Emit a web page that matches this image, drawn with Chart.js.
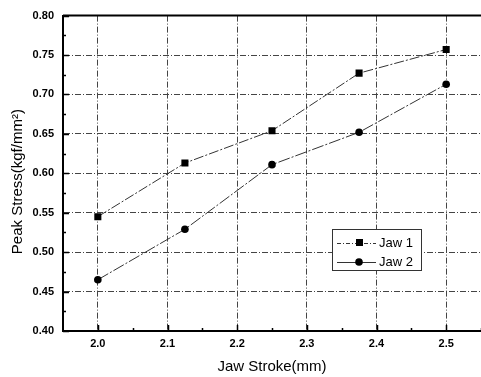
<!DOCTYPE html>
<html>
<head>
<meta charset="utf-8">
<script src="https://cdn.jsdelivr.net/npm/chart.js@4/dist/chart.umd.min.js"></script>
<style>
  html, body { margin: 0; padding: 0; background: #fff; overflow: hidden; }
  #wrap { width: 486px; height: 377px; }
</style>
</head>
<body>
<div id="wrap"><canvas id="c" width="486" height="377"></canvas></div>
<script>
const jawStroke = [2.0, 2.125, 2.25, 2.375, 2.5];
const jaw1 = [0.545, 0.613, 0.654, 0.727, 0.757];
const jaw2 = [0.465, 0.529, 0.611, 0.652, 0.713];
const seriesLabels = ['Jaw 1', 'Jaw 2'];
const xTickValues = [2.0, 2.1, 2.2, 2.3, 2.4, 2.5];
const yTickValues = [0.40, 0.45, 0.50, 0.55, 0.60, 0.65, 0.70, 0.75, 0.80];
const xTitle = 'Jaw Stroke(mm)';
const yTitle = 'Peak Stress(kgf/mm\u00B2)';

const FONT = "'Liberation Sans', Arial, sans-serif";

const framePlugin = {
  id: 'frame',
  afterDraw(chart) {
    const { ctx, chartArea: a, scales: { x, y } } = chart;
    ctx.save();
    ctx.strokeStyle = '#000';
    ctx.lineWidth = 2;
    ctx.beginPath();
    ctx.moveTo(a.left, a.top);
    ctx.lineTo(a.right, a.top);
    ctx.stroke();
    ctx.lineWidth = 1.5;
    ctx.beginPath();
    for (let i = 0; i <= 11; i++) {
      const v = 2.0 + i * 0.05;
      const px = Math.round(x.getPixelForValue(v)) + 0.5;
      ctx.moveTo(px, a.bottom);
      ctx.lineTo(px, a.bottom - (i % 2 === 0 ? 6 : 3));
    }
    for (let i = 0; i <= 16; i++) {
      const v = 0.40 + i * 0.025;
      const py = Math.round(y.getPixelForValue(v)) + 0.5;
      ctx.moveTo(a.left, py);
      ctx.lineTo(a.left + (i % 2 === 0 ? 6 : 3), py);
    }
    ctx.stroke();
    ctx.restore();
  },
  afterDatasetsDraw(chart) {
    const { ctx } = chart;
    const bx = 332, by = 229, bw = 89, bh = 41;
    ctx.save();
    ctx.fillStyle = '#fff';
    ctx.fillRect(bx, by, bw, bh);
    ctx.strokeStyle = '#333';
    ctx.lineWidth = 1;
    ctx.strokeRect(bx + 0.5, by + 0.5, bw, bh);
    chart.data.datasets.forEach((ds, i) => {
      const cy = by + 13.5 + i * 19.5;
      ctx.strokeStyle = ds.borderColor;
      ctx.lineWidth = 1;
      ctx.setLineDash(i === 0 ? [4, 2, 1, 2] : []);
      ctx.beginPath();
      ctx.moveTo(337, Math.round(cy) + 0.5);
      ctx.lineTo(376, Math.round(cy) + 0.5);
      ctx.stroke();
      ctx.setLineDash([]);
      ctx.fillStyle = '#000';
      if (ds.pointStyle === 'rect') {
        ctx.fillRect(356, cy - 3.5, 7, 7);
      } else {
        ctx.beginPath();
        ctx.arc(359, cy, 3.8, 0, Math.PI * 2);
        ctx.fill();
      }
      ctx.fillStyle = '#000';
      ctx.font = '13px ' + FONT;
      ctx.textBaseline = 'middle';
      ctx.textAlign = 'left';
      ctx.fillText(ds.label, 379, cy + 0.5);
    });
    ctx.restore();
  }
};

new Chart(document.getElementById('c'), {
  type: 'line',
  data: {
    datasets: [
      {
        label: seriesLabels[0],
        data: jawStroke.map((v, i) => ({ x: v, y: jaw1[i] })),
        borderColor: '#333',
        borderWidth: 1,
        borderDash: [10, 2, 2, 2],
        pointStyle: 'rect',
        pointRadius: 5,
        pointBackgroundColor: '#000',
        pointBorderColor: '#000',
        pointBorderWidth: 0,
        tension: 0,
        fill: false
      },
      {
        label: seriesLabels[1],
        data: jawStroke.map((v, i) => ({ x: v, y: jaw2[i] })),
        borderColor: '#333',
        borderWidth: 1,
        borderDash: [12, 2, 2, 2],
        pointStyle: 'circle',
        pointRadius: 3.8,
        pointBackgroundColor: '#000',
        pointBorderColor: '#000',
        pointBorderWidth: 0,
        tension: 0,
        fill: false
      }
    ]
  },
  options: {
    responsive: false,
    animation: false,
    layout: { padding: { top: 14, left: 0, right: 0, bottom: 0 } },
    plugins: {
      legend: { display: false },
      tooltip: { enabled: false }
    },
    scales: {
      x: {
        type: 'linear',
        min: 1.95,
        max: 2.55,
        afterFit(s) { s.height = 46; },
        afterBuildTicks(s) { s.ticks = xTickValues.map(v => ({ value: v })); },
        ticks: {
          padding: 6,
          color: '#000',
          font: { family: FONT, size: 11, weight: 'bold' },
          callback: v => Number(v).toFixed(1),
          maxRotation: 0,
          autoSkip: false
        },
        grid: {
          drawTicks: false,
          color: '#444',
          lineWidth: 1
        },
        border: { display: true, color: '#000', width: 2, dash: [6, 2, 1, 2] },
        title: {
          display: true,
          text: xTitle,
          color: '#000',
          font: { family: FONT, size: 15 },
          padding: { top: 0, bottom: 1 }
        }
      },
      y: {
        min: 0.40,
        max: 0.80,
        afterFit(s) { s.width = 63; },
        afterBuildTicks(s) { s.ticks = yTickValues.map(v => ({ value: v })); },
        ticks: {
          padding: 9,
          color: '#000',
          font: { family: FONT, size: 11, weight: 'bold' },
          callback: v => Number(v).toFixed(2),
          autoSkip: false
        },
        grid: {
          drawTicks: false,
          color: '#444',
          lineWidth: 1
        },
        border: { display: true, color: '#000', width: 2, dash: [6, 2, 1, 2] },
        title: {
          display: true,
          text: yTitle + '    ',
          color: '#000',
          font: { family: FONT, size: 15 },
          padding: { top: 9, bottom: 0 }
        }
      }
    }
  },
  plugins: [framePlugin]
});
</script>
</body>
</html>
